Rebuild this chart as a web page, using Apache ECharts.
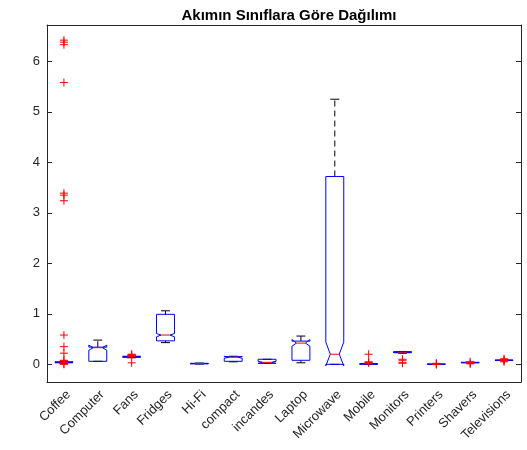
<!DOCTYPE html>
<html>
<head>
<meta charset="utf-8">
<script src="https://cdn.jsdelivr.net/npm/echarts@6/dist/echarts.min.js"></script>
<style>html,body{margin:0;padding:0;background:#fff;}#chart{width:527px;height:450px;}</style>
</head>
<body>
<div id="chart"></div>
<script>
const titleText = 'Akımın Sınıflara Göre Dağılımı';
const categories = ['Coffee','Computer','Fans','Fridges','Hi-Fi','compact','incandes','Laptop','Microwave','Mobile','Monitors','Printers','Shavers','Televisions'];
const q1Values      = [0.03, 0.06, 0.14, 0.465, 0.01,  0.06, 0.02, 0.08, 0.00, 0.00,  0.23, 0.000, 0.030, 0.075];
const medianValues  = [0.04, 0.33, 0.15, 0.58,  0.015, 0.14, 0.04, 0.42, 0.20, 0.01,  0.24, 0.000, 0.035, 0.080];
const q3Values      = [0.05, 0.34, 0.16, 0.99,  0.02,  0.15, 0.10, 0.46, 3.72, 0.015, 0.25, 0.005, 0.040, 0.085];
const whiskerLow    = [0.02, 0.06, 0.13, 0.43,  0.005, 0.05, 0.02, 0.03, 0.00, 0.00,  0.22, 0.000, 0.028, 0.072];
const whiskerHigh   = [0.06, 0.48, 0.165,1.06,  0.025, 0.16, 0.10, 0.56, 5.25, 0.02,  0.255,0.008, 0.042, 0.088];
const notchLow      = [0.035,0.28, 0.145,0.545, 0.012, 0.12, 0.02, 0.36,-0.03, 0.005, 0.235,0.000, 0.032, 0.078];
const notchHigh     = [0.045,0.38, 0.155,0.61,  0.018, 0.16, 0.06, 0.49, 0.44, 0.015, 0.245,0.004, 0.038, 0.082];
const outlierCategory = ['Coffee','Coffee','Coffee','Coffee','Coffee','Coffee','Coffee','Coffee','Coffee','Coffee','Coffee','Coffee','Coffee','Coffee',
  'Fans','Fans','Fans','Fans',
  'Mobile','Mobile','Mobile','Mobile',
  'Monitors','Monitors','Monitors','Monitors',
  'Printers','Printers','Printers',
  'Shavers','Shavers','Shavers',
  'Televisions','Televisions','Televisions','Televisions'];
const outlierValues = [6.42, 6.38, 6.33, 5.58, 3.39, 3.35, 3.24, 0.58, 0.35, 0.22, 0.08, 0.07, 0.01, 0.00,
  0.20, 0.19, 0.18, 0.03,
  0.20, 0.05, 0.04, 0.03,
  0.10, 0.08, 0.04, 0.02,
  0.02, 0.015, -0.005,
  0.05, 0.02, 0.01,
  0.11, 0.09, 0.07, 0.05];
const yTicks = [0, 1, 2, 3, 4, 5, 6];

const boxData = categories.map((c, i) => [i, q1Values[i], medianValues[i], q3Values[i], whiskerLow[i], whiskerHigh[i], notchLow[i], notchHigh[i]]);
const outlierData = outlierCategory.map((c, k) => [categories.indexOf(c), outlierValues[k]]);

function renderBox(params, api) {
  const i = api.value(0);
  const q1 = api.value(1), med = api.value(2), q3 = api.value(3);
  const wl = api.value(4), wh = api.value(5), nl = api.value(6), nh = api.value(7);
  const band = api.size([1, 0])[0];
  const hw = band * 0.265, nw = hw / 2, cw = hw / 2;
  const cx = api.coord([i, med])[0];
  const y = v => api.coord([i, v])[1];
  const pts = [
    [cx - hw, y(q1)], [cx - hw, y(nl)], [cx - nw, y(med)], [cx - hw, y(nh)], [cx - hw, y(q3)],
    [cx + hw, y(q3)], [cx + hw, y(nh)], [cx + nw, y(med)], [cx + hw, y(nl)], [cx + hw, y(q1)], [cx - hw, y(q1)]
  ];
  const children = [];
  children.push({type: 'line', shape: {x1: cx, y1: y(q3), x2: cx, y2: y(wh)}, style: {stroke: '#000', lineWidth: 1, lineDash: [6, 4]}});
  children.push({type: 'line', shape: {x1: cx, y1: y(q1), x2: cx, y2: y(wl)}, style: {stroke: '#000', lineWidth: 1, lineDash: [6, 4]}});
  children.push({type: 'line', shape: {x1: cx - cw, y1: y(wh), x2: cx + cw, y2: y(wh)}, style: {stroke: '#000', lineWidth: 1}});
  children.push({type: 'line', shape: {x1: cx - cw, y1: y(wl), x2: cx + cw, y2: y(wl)}, style: {stroke: '#000', lineWidth: 1}});
  children.push({type: 'polyline', shape: {points: pts}, style: {stroke: '#0000ff', lineWidth: 1, fill: null}});
  children.push({type: 'line', shape: {x1: cx - nw, y1: y(med), x2: cx + nw, y2: y(med)}, style: {stroke: '#ff0000', lineWidth: 1}});
  return {type: 'group', children: children};
}

function renderPlus(params, api) {
  const p = api.coord([api.value(0), api.value(1)]);
  const s = 4;
  return {type: 'group', children: [
    {type: 'line', shape: {x1: p[0] - s, y1: p[1], x2: p[0] + s, y2: p[1]}, style: {stroke: '#ff0000', lineWidth: 1}},
    {type: 'line', shape: {x1: p[0], y1: p[1] - s, x2: p[0], y2: p[1] + s}, style: {stroke: '#ff0000', lineWidth: 1}}
  ]};
}

const axisColor = '#262626';
const font = 'Liberation Sans, Arial, sans-serif';
const chart = echarts.init(document.getElementById('chart'), null, {renderer: 'canvas'});
chart.setOption({
  animation: false,
  backgroundColor: '#fff',
  title: {text: titleText, left: 284, textAlign: 'center', top: 3,
    textStyle: {fontFamily: font, fontSize: 15, fontWeight: 'bold', color: '#000'}},
  grid: {left: 47, right: 6, top: 25, bottom: 68},
  xAxis: [
    {type: 'category', data: categories, position: 'bottom',
      axisLine: {onZero: false, lineStyle: {color: axisColor, width: 1}},
      axisTick: {inside: true, alignWithLabel: true, length: 5, lineStyle: {color: axisColor}},
      axisLabel: {rotate: 45, interval: 0, margin: 6, verticalAlign: 'top', fontFamily: font, fontSize: 13, color: axisColor},
      splitLine: {show: false}},
    {type: 'category', data: categories, position: 'top',
      axisLine: {onZero: false, lineStyle: {color: axisColor, width: 1}},
      axisTick: {inside: true, alignWithLabel: true, length: 5, lineStyle: {color: axisColor}},
      axisLabel: {show: false}, splitLine: {show: false}}
  ],
  yAxis: [
    {type: 'value', min: -0.35, max: 6.72, position: 'left',
      axisLine: {show: true, onZero: false, lineStyle: {color: axisColor, width: 1}},
      axisTick: {show: true, inside: true, length: 5, customValues: yTicks, lineStyle: {color: axisColor}},
      axisLabel: {customValues: yTicks, margin: 7, fontFamily: font, fontSize: 13, color: axisColor},
      splitLine: {show: false}},
    {type: 'value', min: -0.35, max: 6.72, position: 'right',
      axisLine: {show: true, onZero: false, lineStyle: {color: axisColor, width: 1}},
      axisTick: {show: true, inside: true, length: 5, customValues: yTicks, lineStyle: {color: axisColor}},
      axisLabel: {show: false}, splitLine: {show: false}}
  ],
  series: [
    {type: 'custom', renderItem: renderBox, data: boxData, xAxisIndex: 0, yAxisIndex: 0,
      encode: {x: 0, y: [1, 2, 3, 4, 5, 6, 7]}, clip: false},
    {type: 'custom', renderItem: renderPlus, data: outlierData, xAxisIndex: 0, yAxisIndex: 0,
      encode: {x: 0, y: 1}, clip: false}
  ]
});
</script>
</body>
</html>
